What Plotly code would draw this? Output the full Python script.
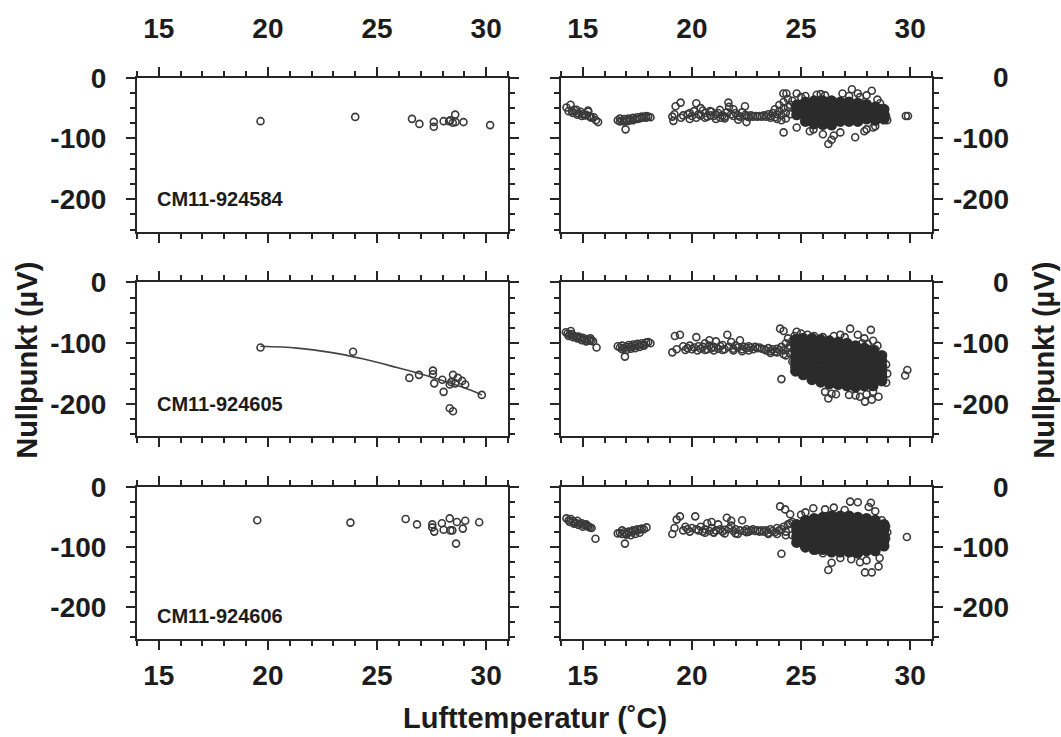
import plotly.graph_objects as go

# ---------------- data ----------------
# Left column: calibration points (x: air temperature °C, y: zero offset µV)
L1_x = [19.66, 24.0, 26.6, 26.94, 27.6, 27.6, 28.05, 28.3, 28.35, 28.58, 28.47, 28.6, 28.96, 30.18]
L1_y = [-71.5, -64.5, -67.7, -76, -72.6, -80.6, -71.5, -71.5, -70, -60.7, -74, -73, -73, -78]

L2_x = [19.66, 23.9, 26.48, 26.92, 27.56, 27.56, 27.62, 27.99, 28.05, 28.33, 28.4, 28.48, 28.58, 28.7, 28.9, 29.04, 28.33, 28.48, 29.8]
L2_y = [-107, -114, -157, -152, -145, -151, -166, -160, -180, -168, -164, -152, -166, -157, -162, -168, -207, -212, -185]
# regression curve
L2_fit_x = [19.66, 21.34, 22.86, 24.39, 25.91, 27.44, 28.96, 29.8]
L2_fit_y = [-105, -108, -115, -126, -140, -155, -173, -185]

L3_x = [19.51, 23.78, 26.31, 26.83, 27.53, 27.53, 27.62, 27.97, 28.05, 28.33, 28.36, 28.45, 28.66, 28.93, 29.04, 28.62, 29.68]
L3_y = [-55, -59, -53, -62, -62, -67, -74, -60, -71, -52, -72, -72, -58, -69, -56, -94, -58.5]

# Right column: field measurements, scattered points
R1_x = [14.25, 14.44, 14.5, 14.6, 14.71, 14.8, 14.9, 15.0, 15.1, 15.24, 15.3, 15.4, 15.5, 15.6, 15.7, 14.35, 14.55, 14.75, 14.95, 15.15, 15.35, 15.25,
        16.6, 16.7, 16.8, 16.9, 17.0, 17.1, 17.2, 17.3, 17.4, 17.5, 17.6, 17.7, 17.8, 17.9, 18.0, 18.1, 16.7, 16.9, 17.1, 17.3, 17.5, 17.7, 17.9, 16.96,
        19.1, 19.2, 19.25, 19.48, 19.6, 19.8, 19.9, 20.0, 20.1, 20.2, 20.3, 20.4, 20.5, 20.6, 20.7, 20.83, 20.9, 21.0, 21.1, 21.2, 21.28, 21.4, 21.5, 21.6, 21.67, 21.8, 21.9, 22.0, 22.12, 22.2, 22.3, 22.43, 22.5, 22.6, 22.7, 22.8, 22.9, 23.0, 23.1, 23.2,
        19.15, 19.5, 19.9, 20.2, 20.4, 20.85, 21.3, 21.7, 21.5, 21.9, 22.1, 22.45, 22.5, 20.6, 21.1,
        23.3, 23.4, 23.5, 23.6, 23.7, 23.8, 23.9, 24.0, 24.1, 24.2, 24.3, 24.4, 24.5, 23.6, 23.9, 24.1, 24.3, 24.5, 24.0, 24.2, 24.4, 24.19, 24.33, 24.8, 24.2, 23.8, 24.6,
        25.72, 27.33, 27.6, 28.24, 28.0, 28.62, 28.7, 28.8, 28.9, 28.95, 24.8, 25.57, 26.25, 26.4, 26.5, 27.48, 28.0, 28.3, 25.2, 25.9, 26.1, 26.9, 27.2, 27.7, 28.5, 25.4, 26.8, 27.9, 28.4, 25.0, 26.0,
        29.8, 29.9]
R1_y = [-49, -44.6, -55, -53, -52.7, -59, -56, -60, -62, -54, -63, -66, -65, -70, -73, -55, -58, -61, -63, -61, -65, -56,
        -70, -72, -71, -72, -70, -71, -69, -70, -68, -68, -67, -66, -65, -66, -64, -65, -67, -68, -67, -66, -65, -64, -63, -85,
        -64, -60, -47, -41, -62, -60, -58, -63, -55, -42, -60, -62, -54, -58, -64, -55, -56, -63, -60, -58, -53, -62, -64, -57, -41, -60, -63, -58, -69, -64, -57, -47, -63, -65, -62, -64, -63, -64, -63, -64,
        -71, -66, -68, -66, -50, -62, -66, -48, -67, -52, -62, -61, -73, -66, -68,
        -62, -64, -60, -63, -58, -65, -60, -55, -62, -50, -58, -48, -45, -66, -68, -70, -67, -60, -45, -40, -35, -26, -26, -26, -90, -52, -38,
        -28, -19, -26, -21.5, -29, -42, -50, -58, -64, -70, -82, -85, -109, -102, -95, -98, -85, -82, -30, -27, -29, -26, -30, -32, -36, -88, -90, -88, -80, -32, -93,
        -63, -63]

R2_x = [14.22, 14.3, 14.4, 14.5, 14.6, 14.7, 14.8, 14.9, 15.0, 15.1, 15.2, 15.3, 15.4, 15.47, 15.63, 14.35, 14.55, 14.75, 14.95, 15.15, 15.35, 14.45,
        16.6, 16.7, 16.8, 16.9, 17.0, 17.1, 17.2, 17.3, 17.4, 17.5, 17.6, 17.7, 17.8, 17.9, 18.0, 18.1, 16.8, 17.0, 17.2, 17.4, 17.6, 17.8, 16.93,
        19.1, 19.22, 19.45, 19.6, 19.8, 19.9, 20.0, 20.1, 20.2, 20.3, 20.4, 20.5, 20.6, 20.7, 20.8, 20.9, 21.0, 21.1, 21.2, 21.3, 21.4, 21.5, 21.62, 21.7, 21.8, 21.9, 22.0, 22.1, 22.2, 22.3, 22.4, 22.5, 22.6, 22.7, 22.8, 22.9, 23.0, 23.1, 23.2, 19.3, 19.7, 20.25, 20.6, 21.0, 21.4, 21.9, 22.3, 22.6, 20.8,
        23.3, 23.4, 23.5, 23.6, 23.7, 23.8, 23.9, 24.0, 24.1, 24.2, 24.3, 24.4, 24.5, 24.6, 24.7, 24.04, 24.2, 24.8, 23.6, 23.9, 24.2, 24.5, 24.1, 24.4, 24.7, 24.3, 24.6,
        26.25, 26.4, 27.7, 27.93, 28.24, 28.55, 27.25, 27.6, 28.2, 28.05, 28.55, 25.0, 25.3, 25.6, 26.0, 26.5, 26.8, 27.0, 28.4, 28.7, 28.9, 28.95, 28.9, 25.2, 25.5, 26.1, 26.6, 27.2, 27.5, 28.0, 28.3, 24.9, 25.0,
        27.9, 28.3, 28.1, 28.5, 27.8,
        29.77, 29.87]
R2_y = [-82, -84, -86, -85, -88, -90, -89, -92, -91, -94, -93, -96, -95, -97, -107, -88, -90, -92, -95, -97, -92, -80,
        -105, -107, -104, -108, -106, -103, -106, -102, -104, -101, -103, -100, -102, -99, -98, -100, -110, -111, -109, -108, -106, -104, -122,
        -115, -88, -86, -105, -108, -104, -110, -107, -90, -105, -109, -106, -100, -110, -104, -108, -106, -97, -109, -105, -103, -110, -86, -106, -98, -109, -104, -107, -95, -110, -106, -108, -105, -107, -110, -106, -108, -107, -109, -110, -111, -112, -111, -112, -111, -112, -113, -112, -95,
        -110, -112, -108, -113, -110, -114, -109, -111, -106, -112, -100, -108, -104, -96, -110, -76, -80, -81, -116, -115, -118, -117, -159, -92, -88, -120, -130,
        -191, -183, -188, -196, -193, -188, -76, -86, -78, -101, -120, -84, -86, -88, -90, -88, -86, -90, -110, -125, -135, -150, -165, -150, -160, -180, -184, -185, -186, -184, -180, -130, -140,
        -92, -96, -110, -104, -100,
        -153, -144]

R3_x = [14.25, 14.35, 14.45, 14.55, 14.65, 14.75, 14.85, 14.95, 15.05, 15.15, 15.25, 15.32, 15.4, 14.4, 14.6, 14.8, 15.0, 15.2, 15.58,
        16.6, 16.7, 16.8, 16.9, 17.0, 17.1, 17.2, 17.3, 17.4, 17.5, 17.6, 17.7, 17.8, 17.92, 16.8, 17.0, 17.2, 17.4, 17.6, 16.93,
        19.1, 19.3, 19.45, 19.6, 19.8, 19.9, 20.0, 20.15, 20.3, 20.4, 20.5, 20.6, 20.7, 20.8, 20.9, 21.0, 21.1, 21.2, 21.3, 21.4, 21.5, 21.6, 21.7, 21.8, 21.9, 22.0, 22.1, 22.2, 22.3, 22.4, 22.5, 22.6, 22.7, 22.8, 22.9, 23.0, 23.1, 23.2, 19.2, 19.7, 20.2, 20.6, 21.0, 21.5, 22.0, 22.5, 20.9, 21.8,
        23.3, 23.4, 23.5, 23.6, 23.7, 23.8, 23.9, 24.0, 24.1, 24.2, 24.3, 24.4, 24.5, 24.6, 24.7, 24.04, 24.27, 24.5, 24.1, 23.5, 23.9, 24.3, 24.6, 24.8,
        26.25, 26.4, 27.93, 28.24, 28.55, 27.25, 27.6, 28.2, 28.1, 25.56, 26.1, 26.5, 27.0, 25.2, 25.0, 28.4, 28.7, 28.9, 28.95, 28.9, 25.3, 25.7, 26.0, 26.8, 27.3, 27.7, 28.0, 25.9, 24.9, 28.6,
        29.85]
R3_y = [-52, -55, -53, -57, -59, -56, -61, -60, -63, -62, -66, -67, -68, -58, -61, -63, -66, -64, -86,
        -77, -76, -78, -75, -77, -74, -75, -72, -73, -70, -71, -69, -70, -67, -72, -79, -80, -78, -76, -94,
        -78, -54, -48.6, -72, -70, -74, -68, -48.6, -72, -66, -74, -70, -60, -73, -68, -75, -72, -62, -70, -74, -71, -51, -69, -64, -73, -70, -78, -72, -55, -73, -70, -74, -72, -70, -73, -72, -74, -72, -68, -66, -70, -76, -76, -77, -77, -75, -58, -56,
        -74, -72, -76, -70, -73, -75, -68, -72, -70, -66, -74, -62, -60, -58, -64, -32, -37, -45, -111, -78, -78, -80, -80, -78,
        -138, -126, -142, -142, -132, -24, -25, -26, -33, -35, -37, -34, -38, -42, -46, -40, -55, -65, -75, -85, -98, -105, -110, -118, -120, -125, -122, -102, -90, -118,
        -83]

# Right column: densely overlapping measurements, one column of values per temperature
R1_core_x = [24.8, 25.2, 25.6, 26.0, 26.4, 26.8, 27.2, 27.6, 28.0, 28.4, 28.8]
R1_core_y = [[-45, -53, -61], [-40, -48, -56, -64, -72], [-38, -46, -54, -62, -70, -76],
             [-38, -46, -54, -62, -70, -77], [-38, -46, -54, -62, -70, -78], [-40, -48, -56, -64, -72],
             [-40, -48, -56, -64, -72], [-42, -50, -58, -66, -72], [-44, -52, -60, -68],
             [-48, -56, -64, -70], [-52, -60, -68]]

R2_core_x = [24.75, 25.1, 25.5, 25.9, 26.3, 26.7, 27.1, 27.5, 27.9, 28.3, 28.7]
R2_core_y = [[-94, -103, -112, -121, -130, -139, -146], [-92, -101, -110, -119, -128, -137, -146, -152],
             [-92, -101, -110, -119, -128, -137, -146, -155, -160], [-94, -103, -112, -121, -130, -139, -148, -157, -164],
             [-96, -105, -114, -123, -132, -141, -150, -159, -167], [-98, -107, -116, -125, -134, -143, -152, -161, -168],
             [-100, -109, -118, -127, -136, -145, -154, -163, -170], [-104, -113, -122, -131, -140, -149, -158, -167, -172],
             [-108, -117, -126, -135, -144, -153, -162, -170], [-112, -121, -130, -139, -148, -157, -165, -170],
             [-120, -129, -138, -147, -155, -162]]

R3_core_x = [24.8, 25.2, 25.6, 26.0, 26.4, 26.8, 27.2, 27.6, 28.0, 28.4, 28.8]
R3_core_y = [[-62, -72, -82, -92], [-55, -64, -73, -82, -91, -100], [-52, -61, -70, -79, -88, -97, -104],
             [-50, -59, -68, -77, -86, -95, -104], [-48, -57, -66, -75, -84, -93, -102, -108],
             [-48, -57, -66, -75, -84, -93, -102, -108], [-48, -57, -66, -75, -84, -93, -102, -108],
             [-50, -59, -68, -77, -86, -95, -104, -110], [-52, -61, -70, -79, -88, -97, -106],
             [-55, -64, -73, -82, -91, -100, -106], [-62, -71, -80, -89, -98]]

sensor_labels = ["CM11-924584", "CM11-924605", "CM11-924606"]
label_y = [-200, -200, -215]
x_ticks = [15, 20, 25, 30]
y_ticks = [0, -100, -200]
y_tick_text = ["0", "-100", "-200"]
x_title = "Lufttemperatur (˚C)"
y_title = "Nullpunkt (µV)"

# ---------------- styling ----------------
W, H = 1061, 737
FONT = "Liberation Sans"
INK = "#1c1c1c"
AX = "#262626"
open_marker = dict(symbol="circle-open", size=7, color="#3a3a3a", line=dict(width=1.6))
core_marker = dict(symbol="circle", size=11, color="#2b2b2b", line=dict(width=0))

fig = go.Figure()

def add_points(ax, xs, ys, marker):
    fig.add_trace(go.Scatter(x=xs, y=ys, mode="markers", marker=marker,
                             xaxis="x" + ax, yaxis="y" + ax, showlegend=False, hoverinfo="skip"))

def expand(cx, cy):
    xs, ys = [], []
    for xv, col in zip(cx, cy):
        for yv in col:
            xs.append(xv)
            ys.append(yv)
    return xs, ys

# left column
add_points("", L1_x, L1_y, open_marker)
fig.add_trace(go.Scatter(x=L2_fit_x, y=L2_fit_y, mode="lines", line=dict(color="#444", width=1.6, shape="spline"),
                         xaxis="x3", yaxis="y3", showlegend=False, hoverinfo="skip"))
add_points("3", L2_x, L2_y, open_marker)
add_points("5", L3_x, L3_y, open_marker)

# right column
for ax, cx, cy, px, py in [("2", R1_core_x, R1_core_y, R1_x, R1_y),
                           ("4", R2_core_x, R2_core_y, R2_x, R2_y),
                           ("6", R3_core_x, R3_core_y, R3_x, R3_y)]:
    add_points(ax, px, py, open_marker)
    dx, dy = expand(cx, cy)
    add_points(ax, dx, dy, core_marker)

# ---------------- axes ----------------
xdom = {"L": [137 / W, 508 / W], "R": [561 / W, 932 / W]}
rows_px = [(64, 221), (273, 430), (482, 637)]
ydom = [[1 - b / H, 1 - t / H] for t, b in rows_px]

tickfont = dict(family=FONT, size=28, color=INK, weight="bold")

layout = dict(width=W, height=H, margin=dict(l=0, r=0, t=0, b=0),
              paper_bgcolor="white", plot_bgcolor="white", showlegend=False)

annotations = []
idx = 0
for r in range(3):
    for c, side in enumerate(["L", "R"]):
        idx += 1
        sfx = "" if idx == 1 else str(idx)
        xa = dict(domain=xdom[side], range=[14, 31], tickvals=x_ticks, ticks="outside", ticklen=9,
                  tickwidth=2, tickcolor=AX, showline=True, linewidth=2, linecolor=AX, mirror="allticks",
                  showgrid=False, zeroline=False, tickfont=tickfont, anchor="y" + sfx,
                  minor=dict(dtick=1, tick0=0, ticks="outside", ticklen=5, tickwidth=1.5, tickcolor=AX))
        if r == 0:
            xa.update(side="top", showticklabels=True, ticklabelstandoff=17)
        elif r == 2:
            xa.update(side="bottom", showticklabels=True, ticklabelstandoff=1)
        else:
            xa.update(showticklabels=False)
        ya = dict(domain=ydom[r], range=[-253, 0], tickvals=y_ticks, ticktext=y_tick_text, ticks="outside",
                  ticklen=9, tickwidth=2, tickcolor=AX, showline=True, linewidth=2, linecolor=AX,
                  mirror="allticks", showgrid=False, zeroline=False, tickfont=tickfont, anchor="x" + sfx,
                  minor=dict(dtick=25, tick0=0, ticks="outside", ticklen=5, tickwidth=1.5, tickcolor=AX))
        if side == "L":
            ya.update(showticklabels=True, ticklabelstandoff=14)
        else:
            ya.update(showticklabels=False)
            for v, t in zip(y_ticks, y_tick_text):
                annotations.append(dict(x=1011 / W, xref="paper", y=v, yref="y" + sfx, text=t,
                                        xanchor="right", yanchor="middle", showarrow=False,
                                        font=tickfont))
        layout["xaxis" + sfx] = xa
        layout["yaxis" + sfx] = ya
    # sensor label on left panel
    sfx = "" if r == 0 else str(2 * r + 1)
    annotations.append(dict(x=14.82, xref="x" + sfx, y=label_y[r], yref="y" + sfx, text=sensor_labels[r],
                            xanchor="left", yanchor="middle", showarrow=False,
                            font=dict(family=FONT, size=20, color=INK, weight="bold")))

titlefont = dict(family=FONT, size=29, color=INK, weight="bold")
annotations.append(dict(x=535 / W, y=1 - 718 / H, xref="paper", yref="paper", text=x_title,
                        showarrow=False, xanchor="center", yanchor="middle", font=titlefont))
annotations.append(dict(x=27 / W, y=1 - 353 / H, xref="paper", yref="paper", text=y_title, textangle=-90,
                        showarrow=False, xanchor="center", yanchor="middle", font=titlefont))
annotations.append(dict(x=1044 / W, y=1 - 353 / H, xref="paper", yref="paper", text=y_title, textangle=-90,
                        showarrow=False, xanchor="center", yanchor="middle", font=titlefont))
layout["annotations"] = annotations

fig.update_layout(**layout)
fig.write_html("out.html")
